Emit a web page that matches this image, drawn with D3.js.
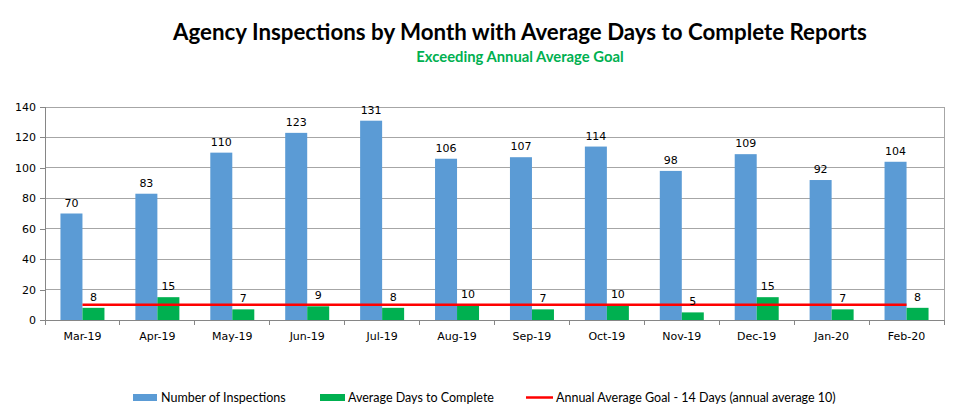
<!DOCTYPE html>
<html><head><meta charset="utf-8">
<script src="https://cdn.jsdelivr.net/npm/d3@7"></script>
<style>body{margin:0;background:#fff}svg{display:block}</style>
</head><body>
<svg id="c" width="960" height="416"></svg>
<script>
const months = ["Mar-19","Apr-19","May-19","Jun-19","Jul-19","Aug-19","Sep-19","Oct-19","Nov-19","Dec-19","Jan-20","Feb-20"];
const inspections = [70,83,110,123,131,106,107,114,98,109,92,104];
const avgDays = [8,15,7,9,8,10,7,10,5,15,7,8];
const goal = [10,10,10,10,10,10,10,10,10,10,10,10];
const yTicks = [0,20,40,60,80,100,120,140];
const titleText = "Agency Inspections by Month with Average Days to Complete Reports";
const subtitleText = "Exceeding Annual Average Goal";
const legendLabels = ["Number of Inspections","Average Days to Complete","Annual Average Goal - 14 Days (annual average 10)"];

const svg = d3.select("#c");
const m = {l:45, r:944, t:107, b:320};
const x = d3.scaleBand().domain(months).range([m.l, m.r]);
const y = d3.scaleLinear().domain([0,140]).range([m.b, m.t]);
const barW = 22;
const grid = "#a6a6a6", axisC = "#868686";

// gridlines
svg.append("g").selectAll("line").data(yTicks.filter(d=>d>0)).join("line")
  .attr("x1", m.l).attr("x2", m.r).attr("y1", d=>y(d)).attr("y2", d=>y(d))
  .attr("stroke", grid).attr("stroke-width",1).attr("shape-rendering","crispEdges");
// right border
svg.append("line").attr("x1",m.r).attr("x2",m.r).attr("y1",m.t).attr("y2",m.b)
  .attr("stroke",grid).attr("shape-rendering","crispEdges");

// y axis
const ya = svg.append("g").attr("transform",`translate(${m.l},0)`)
  .call(d3.axisLeft(y).tickValues(yTicks).tickSize(5).tickPadding(4));
ya.select(".domain").attr("stroke",axisC).attr("shape-rendering","crispEdges");
ya.selectAll(".tick line").attr("stroke",axisC).attr("shape-rendering","crispEdges");
ya.selectAll("text").attr("font-family","DejaVu Sans").attr("font-size",11).attr("fill","#000");

// bars
svg.append("g").selectAll("rect").data(inspections).join("rect")
  .attr("x",(d,i)=>x(months[i])+x.bandwidth()/2-barW).attr("width",barW)
  .attr("y",d=>y(d)).attr("height",d=>y(0)-y(d)).attr("fill","#5b9bd5");
svg.append("g").selectAll("rect").data(avgDays).join("rect")
  .attr("x",(d,i)=>x(months[i])+x.bandwidth()/2).attr("width",barW)
  .attr("y",d=>y(d)).attr("height",d=>y(0)-y(d)).attr("fill","#00b050");

// x axis
const xa = svg.append("g").attr("transform",`translate(0,${m.b})`)
  .call(d3.axisBottom(x).tickSize(0).tickPadding(12));
xa.select(".domain").attr("stroke",axisC).attr("shape-rendering","crispEdges");
xa.selectAll("text").attr("font-family","DejaVu Sans").attr("font-size",11).attr("fill","#000");
svg.append("g").selectAll("line").data(months.concat(["end"])).join("line")
  .attr("x1",(d,i)=>i<months.length?x(d):m.r).attr("x2",(d,i)=>i<months.length?x(d):m.r)
  .attr("y1",m.b).attr("y2",m.b+5).attr("stroke",axisC).attr("shape-rendering","crispEdges");

// goal line
const line = d3.line().x((d,i)=>x(months[i])+x.bandwidth()/2).y(d=>y(d));
svg.append("path").datum(goal).attr("d",line).attr("fill","none")
  .attr("stroke","#ff0000").attr("stroke-width",2.5);

// data labels
svg.append("g").selectAll("text").data(inspections).join("text")
  .attr("x",(d,i)=>x(months[i])+x.bandwidth()/2-barW/2).attr("y",d=>y(d)-7)
  .attr("text-anchor","middle").attr("font-family","DejaVu Sans").attr("font-size",11).text(d=>d);
svg.append("g").selectAll("text").data(avgDays).join("text")
  .attr("x",(d,i)=>x(months[i])+x.bandwidth()/2+barW/2).attr("y",d=>y(d)-7)
  .attr("text-anchor","middle").attr("font-family","DejaVu Sans").attr("font-size",11).text(d=>d);

// titles
svg.append("text").attr("x",520).attr("y",40).attr("text-anchor","middle")
  .attr("font-family","Lato").attr("font-weight","bold").attr("font-size",22.3).attr("fill","#000").text(titleText);
svg.append("text").attr("x",520).attr("y",62).attr("text-anchor","middle")
  .attr("font-family","Lato").attr("font-weight","bold").attr("font-size",14.8).attr("fill","#00b050").text(subtitleText);

// legend
const lg = svg.append("g").attr("font-family","Lato").attr("font-size",12.5);
lg.append("rect").attr("x",133).attr("y",394).attr("width",24).attr("height",7).attr("fill","#5b9bd5");
lg.append("text").attr("x",161).attr("y",401.5).text(legendLabels[0]);
lg.append("rect").attr("x",320).attr("y",394).attr("width",25).attr("height",7).attr("fill","#00b050");
lg.append("text").attr("x",348).attr("y",401.5).text(legendLabels[1]);
lg.append("line").attr("x1",526).attr("x2",553).attr("y1",397.5).attr("y2",397.5).attr("stroke","#ff0000").attr("stroke-width",2.5);
lg.append("text").attr("x",556).attr("y",401.5).text(legendLabels[2]);
</script>
</body></html>
